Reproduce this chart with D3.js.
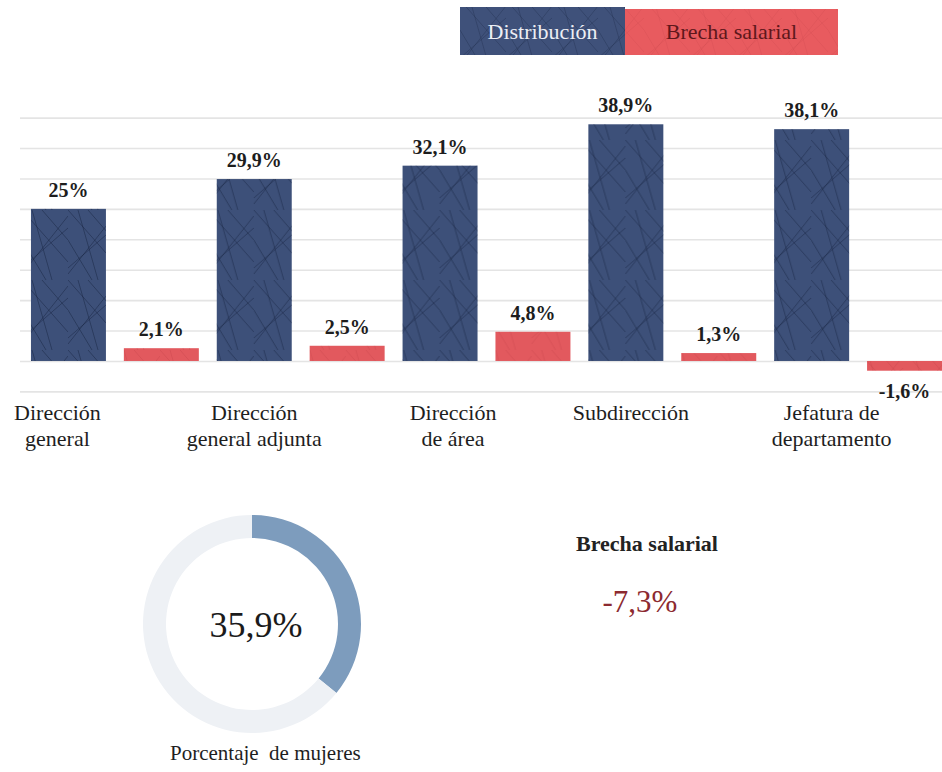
<!DOCTYPE html>
<html lang="es">
<head>
<meta charset="utf-8">
<title>Distribución y brecha salarial por nivel</title>
<script src="https://cdn.jsdelivr.net/npm/d3@7/dist/d3.min.js"></script>
<style>
  html, body { margin: 0; padding: 0; background: #fff; }
  svg { display: block; }
</style>
</head>
<body>
<svg id="chart" width="942" height="772"></svg>
<script>
// ---- data ----
const categories = [
  ["Dirección", "general"],
  ["Dirección", "general adjunta"],
  ["Dirección", "de área"],
  ["Subdirección"],
  ["Jefatura de", "departamento"]
];
const seriesNames = ["Distribución", "Brecha salarial"];
const distribucion = [25, 29.9, 32.1, 38.9, 38.1];
const brecha = [2.1, 2.5, 4.8, 1.3, -1.6];
const gridTicks = [-5, 0, 5, 10, 15, 20, 25, 30, 35, 40];
const mujeres = 35.9;
const brechaTotal = -7.3;
const donutLabel = "Porcentaje  de mujeres";
const brechaTitle = "Brecha salarial";

// ---- layout ----
const W = 942, H = 772;
const serif = "'Liberation Serif', 'Times New Roman', serif";
const colors = { "Distribución": "#3d5079", "Brecha salarial": "#e2595e" };
const legendFill = { "Distribución": "#3f517a", "Brecha salarial": "#e85b5f" };
const legendText = { "Distribución": "#eceef4", "Brecha salarial": "#5e171b" };
const labelShift = [-11, 0, 13, 5, 20];   // nudges of the category captions

const es = d3.formatLocale({ decimal: ",", thousands: ".", grouping: [3], currency: ["", " €"], minus: "-" });
const pct = v => es.format(".1~f")(v) + "%";

const svg = d3.select("#chart");

const defs = svg.append("defs");
// scratchy texture laid over the bars
function scratchPattern(id, stroke, op) {
  const p = defs.append("pattern").attr("id", id)
    .attr("patternUnits", "userSpaceOnUse").attr("width", 46).attr("height", 70);
  const segs = [[0,0,46,52],[46,6,0,64],[10,0,30,70],[0,30,24,70],[46,30,20,0],[0,58,46,18]];
  p.selectAll("line").data(segs).join("line")
    .attr("x1", d => d[0]).attr("y1", d => d[1]).attr("x2", d => d[2]).attr("y2", d => d[3])
    .attr("stroke", stroke).attr("stroke-width", 0.8).attr("stroke-opacity", op);
}
scratchPattern("scratchBlue", "#16223f", 0.6);
scratchPattern("scratchRed", "#b83a40", 0.35);

const x0 = d3.scaleBand().domain(d3.range(categories.length)).range([22, 22 + 5 * 185.8]).padding(0);
const x1 = d3.scaleBand().domain(seriesNames).range([0, x0.bandwidth()])
  .paddingInner(0.193).paddingOuter(0.0965);
const y = d3.scaleLinear().domain([-5, 40]).range([391.4, 117.6]);

// gridlines
const grid = d3.axisLeft(y).tickValues(gridTicks).tickSize(-(W - 20)).tickFormat("");
svg.append("g").attr("transform", "translate(20,0)").call(grid)
  .call(g => g.select(".domain").remove())
  .call(g => g.selectAll(".tick line").attr("stroke", "#e4e4e4").attr("stroke-width", 1.6));

// bars
const rows = categories.map((c, i) => ({ i, values: [
  { s: seriesNames[0], v: distribucion[i] },
  { s: seriesNames[1], v: brecha[i] }
]}));

const groups = svg.append("g").selectAll("g").data(rows).join("g")
  .attr("transform", d => `translate(${x0(d.i)},0)`);

groups.selectAll("rect.bar").data(d => d.values).join("rect").attr("class", "bar")
  .attr("x", d => x1(d.s)).attr("width", x1.bandwidth())
  .attr("y", d => y(Math.max(0, d.v))).attr("height", d => Math.abs(y(d.v) - y(0)))
  .attr("fill", d => colors[d.s]);

groups.selectAll("rect.tex").data(d => d.values).join("rect").attr("class", "tex")
  .attr("x", d => x1(d.s)).attr("width", x1.bandwidth())
  .attr("y", d => y(Math.max(0, d.v))).attr("height", d => Math.abs(y(d.v) - y(0)))
  .attr("fill", d => d.s === seriesNames[0] ? "url(#scratchBlue)" : "url(#scratchRed)");

groups.selectAll("text.val").data(d => d.values).join("text").attr("class", "val")
  .attr("x", d => x1(d.s) + x1.bandwidth() / 2)
  .attr("y", d => d.v >= 0 ? y(d.v) - 12 : y(d.v) + 27)
  .attr("text-anchor", "middle")
  .attr("font-family", serif)
  .attr("font-weight", "bold").attr("font-size", 20).attr("fill", "#1d1d1d")
  .text(d => pct(d.v));

// category captions
const cap = svg.append("g").selectAll("text").data(categories).join("text")
  .attr("x", (d, i) => x0(i) + x1(seriesNames[0]) + x1.bandwidth() / 2 + labelShift[i])
  .attr("y", 420)
  .attr("text-anchor", "middle")
  .attr("font-family", serif)
  .attr("font-size", 22).attr("fill", "#1e1e1e");
cap.selectAll("tspan").data(d => d).join("tspan")
  .attr("x", function () { return d3.select(this.parentNode).attr("x"); })
  .attr("dy", (d, j) => j === 0 ? 0 : 26)
  .text(d => d);

// legend
const legX = d3.scaleOrdinal().domain(seriesNames).range([460, 625]);
const legW = d3.scaleOrdinal().domain(seriesNames).range([165, 213]);
const leg = svg.append("g").selectAll("g").data(seriesNames).join("g");
leg.append("rect")
  .attr("x", d => legX(d)).attr("y", (d, i) => i === 0 ? 7 : 9)
  .attr("width", d => legW(d)).attr("height", (d, i) => i === 0 ? 48 : 46)
  .attr("fill", d => legendFill[d]);
leg.append("rect")
  .attr("x", d => legX(d)).attr("y", (d, i) => i === 0 ? 7 : 9)
  .attr("width", d => legW(d)).attr("height", (d, i) => i === 0 ? 48 : 46)
  .attr("fill", (d, i) => i === 0 ? "url(#scratchBlue)" : "url(#scratchRed)").attr("opacity", 0.6);
leg.append("text")
  .attr("x", d => legX(d) + legW(d) / 2).attr("y", 39)
  .attr("text-anchor", "middle")
  .attr("font-family", serif)
  .attr("font-size", 22).attr("fill", d => legendText[d])
  .text(d => d);

// donut: share of women
const cx = 252, cy = 624, rOut = 109, rIn = 86;
const pie = d3.pie().sort(null).value(d => d);
const arc = d3.arc().innerRadius(rIn).outerRadius(rOut);
const donut = svg.append("g").attr("transform", `translate(${cx},${cy})`);
donut.selectAll("path").data(pie([mujeres, 100 - mujeres])).join("path")
  .attr("d", arc).attr("fill", (d, i) => i === 0 ? "#7d9cbd" : "#eef1f5");
donut.append("text").attr("x", 4).attr("y", 13).attr("text-anchor", "middle")
  .attr("font-family", serif)
  .attr("font-size", 36).attr("fill", "#1b1b1b")
  .text(pct(mujeres));
svg.append("text").attr("x", 170).attr("y", 760)
  .attr("font-family", serif)
  .attr("font-size", 21).attr("fill", "#1e1e1e")
  .style("white-space", "pre")
  .text(donutLabel);

// overall pay gap
svg.append("text").attr("x", 647).attr("y", 551).attr("text-anchor", "middle")
  .attr("font-family", serif)
  .attr("font-weight", "bold").attr("font-size", 22).attr("fill", "#222")
  .text(brechaTitle);
svg.append("text").attr("x", 640).attr("y", 612).attr("text-anchor", "middle")
  .attr("font-family", serif)
  .attr("font-size", 31).attr("fill", "#8c2a30")
  .text(pct(brechaTotal));
</script>
</body>
</html>
